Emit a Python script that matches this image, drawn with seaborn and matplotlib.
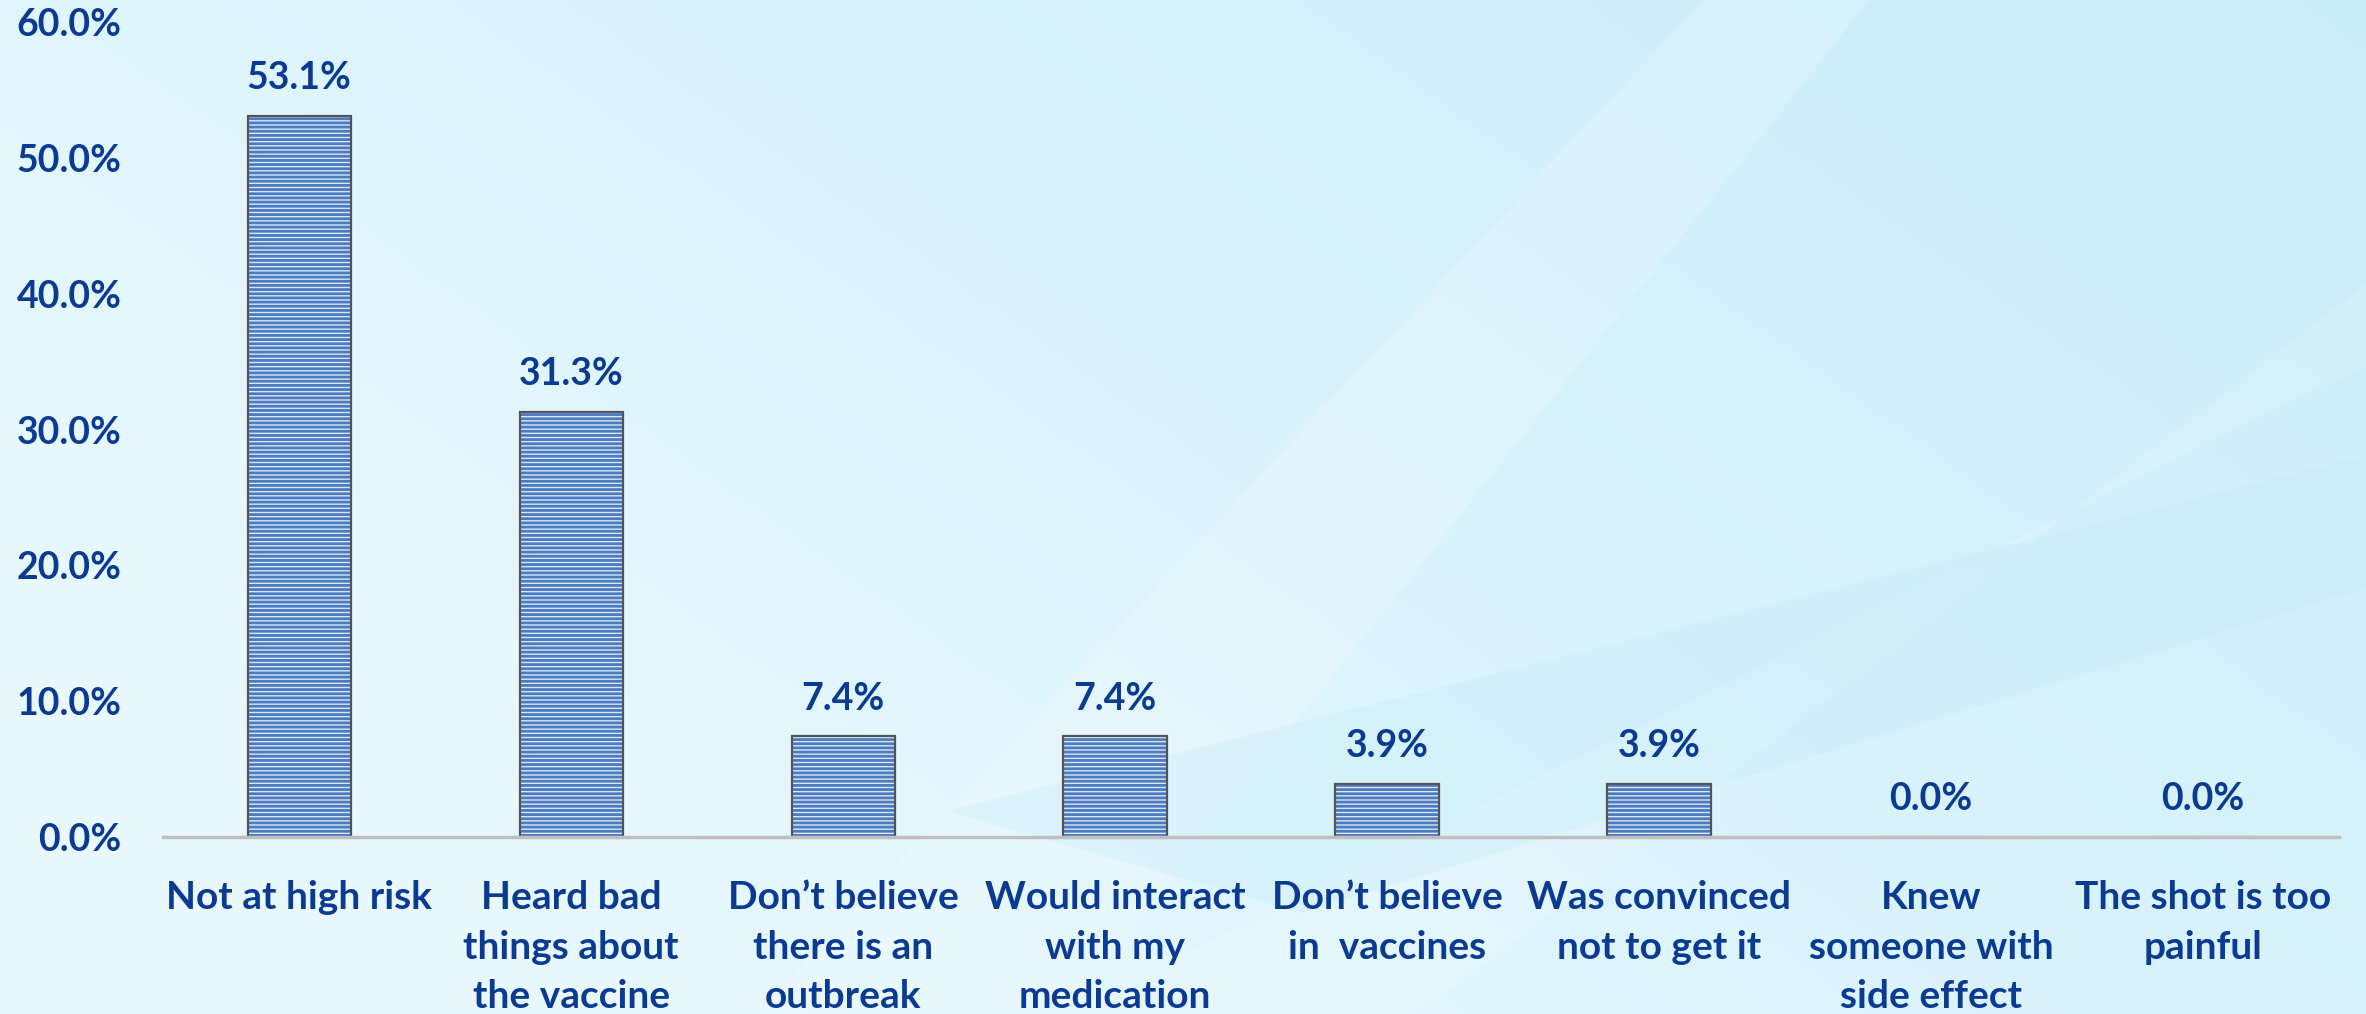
import numpy as np
import pandas as pd
import matplotlib
matplotlib.use('Agg')
import matplotlib.pyplot as plt
import seaborn as sns
from matplotlib.patches import Polygon

# Chart data
reasons = ['Not at high risk', 'Heard bad\nthings about\nthe vaccine',
           'Don\u2019t believe\nthere is an\noutbreak', 'Would interact\nwith my\nmedication',
           'Don\u2019t believe\nin  vaccines', 'Was convinced\nnot to get it',
           'Knew\nsomeone with\nside effect', 'The shot is too\npainful']
percent = [53.1, 31.3, 7.4, 7.4, 3.9, 3.9, 0.0, 0.0]
y_ticks = [0, 10, 20, 30, 40, 50, 60]

df = pd.DataFrame({'reason': reasons, 'percent': percent})

sns.set_style('white')
plt.rcParams['font.family'] = ['Lato', 'DejaVu Sans']
plt.rcParams['hatch.linewidth'] = 2.0

text_blue = '#0b3a93'

fig = plt.figure(figsize=(23.66, 10.14), dpi=100)

# Background: light cyan gradient with soft diagonal light bands
bg = fig.add_axes([0, 0, 1, 1], zorder=-5)
xx, yy = np.meshgrid(np.linspace(0, 1, 400), np.linspace(0, 1, 200))
t = np.clip(0.75 * xx + 0.45 * (1 - yy) - 0.2, 0, 1)
c0 = np.array([0.91, 0.975, 0.995])
c1 = np.array([0.79, 0.93, 0.975])
img = c0[None, None, :] * (1 - t[..., None]) + c1[None, None, :] * t[..., None]
bg.imshow(img, extent=[0, 1, 0, 1], aspect='auto', origin='upper')
bg.add_patch(Polygon([[0.32, 0], [0.45, 0], [0.79, 1], [0.72, 1]], closed=True,
                     facecolor='white', alpha=0.16, edgecolor='none'))
bg.add_patch(Polygon([[0.45, 0], [0.60, 0], [1.0, 0.72], [1.0, 0.64]], closed=True,
                     facecolor='white', alpha=0.12, edgecolor='none'))
bg.add_patch(Polygon([[0.40, 0.2], [1.0, 0.55], [1.0, 0.42], [0.55, 0.1]], closed=True,
                     facecolor='#bfeaf8', alpha=0.25, edgecolor='none'))
bg.set_xlim(0, 1)
bg.set_ylim(0, 1)
bg.axis('off')

ax = fig.add_axes([0.069, 0.1746, 0.9196, 0.8035])
ax.patch.set_alpha(0)

# Hatched fill layer
sns.barplot(data=df, x='reason', y='percent', ax=ax, width=0.38,
            color='#dde6f2', edgecolor='#4a7cc2', linewidth=0, hatch='----',
            saturation=1)
# Outline layer
sns.barplot(data=df, x='reason', y='percent', ax=ax, width=0.38,
            facecolor='none', edgecolor='#555555', linewidth=1.6)

for i, v in enumerate(percent):
    ax.annotate(f'{v:.1f}%', (i, v), xytext=(0, 27), textcoords='offset points',
                ha='center', va='center', fontsize=27, fontweight='bold', color=text_blue)

ax.set_xlim(-0.5, len(reasons) - 0.5)
ax.set_ylim(0, 60)
ax.set_yticks(y_ticks)
ax.set_yticklabels([f'{v:.1f}%' for v in y_ticks])
ax.set_xlabel('')
ax.set_ylabel('')
for s in ['top', 'right', 'left']:
    ax.spines[s].set_visible(False)
ax.spines['bottom'].set_color('#bfbfbf')
ax.spines['bottom'].set_linewidth(2.5)
ax.tick_params(axis='both', length=0)
ax.tick_params(axis='y', pad=30, labelsize=27, labelcolor=text_blue)
ax.tick_params(axis='x', pad=31, labelsize=28, labelcolor=text_blue)
for lab in ax.get_xticklabels() + ax.get_yticklabels():
    lab.set_fontweight('bold')
for lab in ax.get_xticklabels():
    lab.set_linespacing(1.5)
    lab.set_va('top')

fig.savefig('out.png', dpi=100)
